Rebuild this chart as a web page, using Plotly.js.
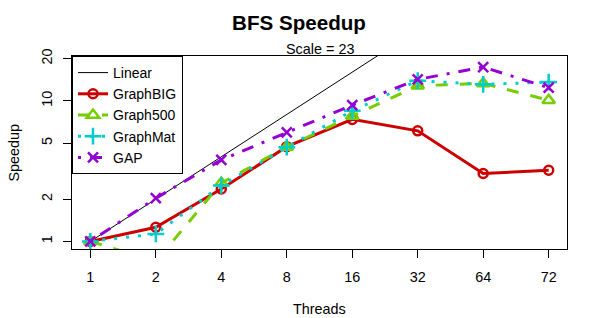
<!DOCTYPE html>
<html>
<head>
<meta charset="utf-8">
<script src="https://cdn.plot.ly/plotly-3.0.1.min.js"></script>
<style>html,body{margin:0;padding:0;background:#fff;}#chart{width:598px;height:318px;}</style>
</head>
<body>
<div id="chart"></div>
<script>
const threads = ["1", "2", "4", "8", "16", "32", "64", "72"];
const linear = [1, 2, 4, 8, 16, 32, 64, 72];
const graphBIG = [1, 1.26, 2.36, 4.72, 7.38, 6.12, 3.04, 3.21];
const graph500 = [1, 0.72, 2.6, 4.7, 7.79, 12.8, 13.3, 10.1];
const graphMat = [1, 1.13, 2.5, 4.68, 8.49, 13.9, 13.1, 13.6];
const gap = [1, 2.03, 3.8, 5.97, 9.32, 14.2, 17.4, 12.4];
const yTicks = [1, 2, 5, 10, 20];

const FONT = "Liberation Sans, Arial, Helvetica, sans-serif";
const FS = 14.4;

const traces = [
  {name: "Linear", x: threads, y: linear, mode: "lines",
   line: {color: "#000000", width: 1}},
  {name: "GraphBIG", x: threads, y: graphBIG, mode: "lines+markers",
   line: {color: "#CD0000", width: 3, dash: "solid"},
   marker: {symbol: "circle-open", size: 9, color: "#CD0000", line: {width: 2.5, color: "#CD0000"}}},
  {name: "Graph500", x: threads, y: graph500, mode: "lines+markers",
   line: {color: "#76CD00", width: 3, dash: "12px,12px"},
   marker: {symbol: "triangle-up-open", size: 11, color: "#76CD00", line: {width: 2.5, color: "#76CD00"}}},
  {name: "GraphMat", x: threads, y: graphMat, mode: "lines+markers",
   line: {color: "#00CDCD", width: 3, dash: "3px,9px"},
   marker: {symbol: "cross-thin-open", size: 12, color: "#00CDCD", line: {width: 2.5, color: "#00CDCD"}}},
  {name: "GAP", x: threads, y: gap, mode: "lines+markers",
   line: {color: "#9400D3", width: 3, dash: "3px,9px,12px,9px"},
   marker: {symbol: "x-thin-open", size: 10, color: "#9400D3", line: {width: 2.5, color: "#9400D3"}}}
];

const layout = {
  width: 598, height: 318,
  margin: {l: 72, r: 31, t: 56, b: 69},
  paper_bgcolor: "#fff", plot_bgcolor: "#fff",
  font: {family: FONT, size: FS, color: "#000"},
  showlegend: true,
  legend: {x: 0, y: 1, xanchor: "left", yanchor: "top",
    bgcolor: "#fff", bordercolor: "#000", borderwidth: 1,
    font: {family: FONT, size: 14, color: "#000"}},
  xaxis: {type: "category", range: [-0.28, 7.28],
    showgrid: false, zeroline: false, showline: true, mirror: true,
    linecolor: "#000", linewidth: 1,
    ticks: "outside", ticklen: 8, tickcolor: "#000",
    ticklabelstandoff: 7,
    tickfont: {family: FONT, size: FS, color: "#000"}},
  yaxis: {type: "log", range: [-0.054, 1.319],
    tickvals: yTicks, ticktext: yTicks.map(String),
    tickangle: -90,
    showgrid: false, zeroline: false, showline: true, mirror: true,
    linecolor: "#000", linewidth: 1,
    ticks: "outside", ticklen: 8, tickcolor: "#000",
    ticklabelstandoff: 5,
    tickfont: {family: FONT, size: FS, color: "#000"}},
  title: {text: "<b>BFS Speedup</b>", x: 0.5, xanchor: "center",
    y: 1 - 22.7 / 318, yref: "container", yanchor: "middle",
    font: {family: FONT, size: 20.6, color: "#000"}},
  annotations: [
    {text: "Scale = 23", xref: "paper", yref: "paper", x: 0.5, y: 1 + 6.6 / 193,
     xanchor: "center", yanchor: "middle", showarrow: false,
     font: {family: FONT, size: FS, color: "#000"}},
    {text: "Threads", xref: "paper", yref: "paper", x: 0.5, y: -(309 - 249) / 193,
     xanchor: "center", yanchor: "middle", showarrow: false,
     font: {family: FONT, size: FS, color: "#000"}},
    {text: "Speedup", xref: "paper", yref: "paper", x: -(72 - 13) / 495, y: 0.5,
     xanchor: "center", yanchor: "middle", showarrow: false, textangle: -90,
     font: {family: FONT, size: FS, color: "#000"}}
  ]
};

Plotly.newPlot("chart", traces, layout, {displayModeBar: false, staticPlot: true});
</script>
</body>
</html>
